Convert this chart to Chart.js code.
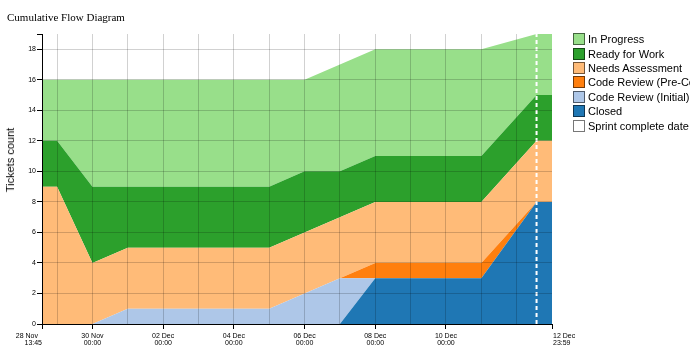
<!DOCTYPE html>
<html>
<head>
<meta charset="utf-8">
<script src="https://cdn.jsdelivr.net/npm/chart.js@4/dist/chart.umd.min.js"></script>
<style>
  html, body { margin: 0; padding: 0; background: #fff; }
  body { width: 690px; height: 345px; overflow: hidden; position: relative; }
  #wrap { position: absolute; left: 0; top: 0; width: 690px; height: 345px; }
  #title { position: absolute; left: 7px; top: 12px; font-family: "Liberation Serif", serif; font-size: 11px; line-height: 11px; color: #000; white-space: nowrap; }
  #ytitle { position: absolute; left: 10px; top: 160px; transform: translate(-50%, -50%) rotate(-90deg); font-family: "Liberation Sans", Arial, sans-serif; font-size: 11px; white-space: nowrap; color: #000; }
  #legend { position: absolute; left: 573px; top: 32px; font-family: "Liberation Sans", Arial, sans-serif; font-size: 11px; color: #000; }
  .row { height: 14.4px; display: flex; align-items: center; white-space: nowrap; }
  .sw { width: 10px; height: 10px; border: 1px solid #555; margin-right: 3px; flex: none; box-sizing: content-box; }
</style>
</head>
<body>
<div id="wrap"><canvas id="c" width="690" height="345"></canvas></div>
<div id="title">Cumulative Flow Diagram</div>
<div id="ytitle">Tickets count</div>
<div id="legend"></div>
<script>
// ---- data ----
const dates = [
  '2022-11-28T13:45', '2022-11-29T00:00', '2022-11-30T00:00', '2022-12-01T00:00',
  '2022-12-02T00:00', '2022-12-03T00:00', '2022-12-04T00:00', '2022-12-05T00:00',
  '2022-12-06T00:00', '2022-12-07T00:00', '2022-12-08T00:00', '2022-12-09T00:00',
  '2022-12-10T00:00', '2022-12-11T00:00', '2022-12-12T13:30', '2022-12-12T23:59'
];
const closed       = [0,0,0,0,0,0,0,0,0,0,3,3,3,3,8,8];
const crInitial    = [0,0,0,1,1,1,1,1,2,3,0,0,0,0,0,0];
const crPre        = [0,0,0,0,0,0,0,0,0,0,1,1,1,1,0,0];
const needsAssess  = [9,9,4,4,4,4,4,4,4,4,4,4,4,4,4,4];
const readyForWork = [3,3,5,4,4,4,4,4,4,3,3,3,3,3,3,3];
const inProgress   = [4,4,7,7,7,7,7,7,6,7,7,7,7,7,4,4];
const sprintDate = '2022-12-12T13:30';
const yMax = 19;
const yTicks = [0,2,4,6,8,10,12,14,16,18];
const gridDates = [
  '2022-11-29T00:00','2022-11-30T00:00','2022-12-01T00:00','2022-12-02T00:00','2022-12-03T00:00',
  '2022-12-04T00:00','2022-12-05T00:00','2022-12-06T00:00','2022-12-07T00:00','2022-12-08T00:00',
  '2022-12-09T00:00','2022-12-10T00:00','2022-12-11T00:00','2022-12-12T00:00'
];
const tickDates  = ['2022-11-28T13:45','2022-11-30T00:00','2022-12-02T00:00','2022-12-04T00:00','2022-12-06T00:00','2022-12-08T00:00','2022-12-10T00:00','2022-12-12T23:59'];
const tickLabels = [['28 Nov','13:45'],['30 Nov','00:00'],['02 Dec','00:00'],['04 Dec','00:00'],['06 Dec','00:00'],['08 Dec','00:00'],['10 Dec','00:00'],['12 Dec','23:59']];
const legendNames  = ['In Progress','Ready for Work','Needs Assessment','Code Review (Pre-Commit)','Code Review (Initial)','Closed','Sprint complete date'];
const legendColors = ['#98df8a','#2ca02c','#ffbb78','#ff7f0e','#aec7e8','#1f77b4','#ffffff'];

// ---- build ----
const t = s => Date.parse(s + ':00Z');
const xs = dates.map(t);
const pts = arr => arr.map((v, i) => ({ x: xs[i], y: v }));
const tickTs = tickDates.map(t);
const gridTs = gridDates.map(t);

const series = [
  { label: 'Closed', data: closed, color: '#1f77b4', fill: 'origin' },
  { label: 'Code Review (Initial)', data: crInitial, color: '#aec7e8', fill: '-1' },
  { label: 'Code Review (Pre-Commit)', data: crPre, color: '#ff7f0e', fill: '-1' },
  { label: 'Needs Assessment', data: needsAssess, color: '#ffbb78', fill: '-1' },
  { label: 'Ready for Work', data: readyForWork, color: '#2ca02c', fill: '-1' },
  { label: 'In Progress', data: inProgress, color: '#98df8a', fill: '-1' }
];
const datasets = series.map(s => ({
  label: s.label, data: pts(s.data), backgroundColor: s.color, borderColor: 'rgba(0,0,0,0)',
  borderWidth: 0, pointRadius: 0, pointHoverRadius: 0, fill: s.fill, tension: 0, stack: 'flow', order: 1
}));
datasets.push({
  label: 'Sprint complete date', data: [{ x: t(sprintDate), y: 0 }, { x: t(sprintDate), y: yMax }],
  borderColor: '#ffffff', borderWidth: 2, borderDash: [4, 3], pointRadius: 0, fill: false, stack: 'sprint', order: 0
});

const xLabelPlugin = {
  id: 'xLabels',
  afterDraw(chart) {
    const sc = chart.scales.x, ctx = chart.ctx;
    ctx.save();
    ctx.font = '7px "Liberation Sans", Arial, sans-serif';
    ctx.fillStyle = '#000';
    ctx.textBaseline = 'alphabetic';
    tickTs.forEach((v, i) => {
      const px = sc.getPixelForValue(v);
      let align = 'center';
      if (i === 0) align = 'right';
      if (i === tickTs.length - 1) align = 'left';
      ctx.textAlign = align;
      const dx = (i === tickTs.length - 1) ? 1 : 0;
      ctx.fillText(tickLabels[i][0], px + dx - (i === 0 ? 4 : 0), sc.top + 14);
      ctx.fillText(tickLabels[i][1], px + dx, sc.top + 21);
    });
    ctx.restore();
  }
};

const isLabeled = v => tickTs.includes(v);

new Chart(document.getElementById('c'), {
  type: 'line',
  data: { datasets },
  plugins: [xLabelPlugin],
  options: {
    responsive: false, animation: false, events: [],
    layout: { padding: { left: 0, right: 138, top: 34, bottom: 0 } },
    plugins: { legend: { display: false }, title: { display: false }, tooltip: { enabled: false } },
    scales: {
      x: {
        type: 'linear', min: xs[0], max: xs[xs.length - 1],
        afterBuildTicks: sc => { sc.ticks = [...new Set([...tickTs, ...gridTs])].sort((a, b) => a - b).map(v => ({ value: v })); },
        afterFit: sc => { sc.height = 21; },
        ticks: { display: false, autoSkip: false },
        grid: {
          z: 1, drawTicks: true, tickLength: 5, lineWidth: 1,
          color: c => (c.tick && (c.tick.value === xs[0] || c.tick.value === xs[xs.length - 1])) ? 'rgba(0,0,0,0)' : 'rgba(0,0,0,0.18)',
          tickColor: c => (c.tick && isLabeled(c.tick.value)) ? '#000' : 'rgba(0,0,0,0)'
        },
        border: { display: true, color: '#000', width: 1, z: 2 }
      },
      y: {
        type: 'linear', stacked: true, min: 0, max: yMax,
        afterBuildTicks: sc => { sc.ticks = yTicks.concat([yMax]).map(v => ({ value: v })); },
        afterFit: sc => { sc.width = 42; },
        ticks: {
          autoSkip: false, padding: 1, color: '#000',
          font: { family: '"Liberation Sans", Arial, sans-serif', size: 7 },
          callback: v => (v === yMax ? '' : String(v))
        },
        grid: {
          z: 1, tickLength: 5, lineWidth: 1,
          color: c => (c.tick && (c.tick.value === 0 || c.tick.value === yMax)) ? 'rgba(0,0,0,0)' : 'rgba(0,0,0,0.18)',
          tickColor: '#000'
        },
        border: { display: true, color: '#000', width: 1, z: 2 }
      }
    }
  }
});

// legend
const leg = document.getElementById('legend');
legendNames.forEach((n, i) => {
  const r = document.createElement('div'); r.className = 'row';
  const sw = document.createElement('span'); sw.className = 'sw';
  sw.style.background = legendColors[i];
  sw.style.borderColor = i === legendNames.length - 1 ? '#777' : 'rgba(0,0,0,0.55)';
  const tx = document.createElement('span'); tx.textContent = n;
  r.appendChild(sw); r.appendChild(tx); leg.appendChild(r);
});
</script>
</body>
</html>
